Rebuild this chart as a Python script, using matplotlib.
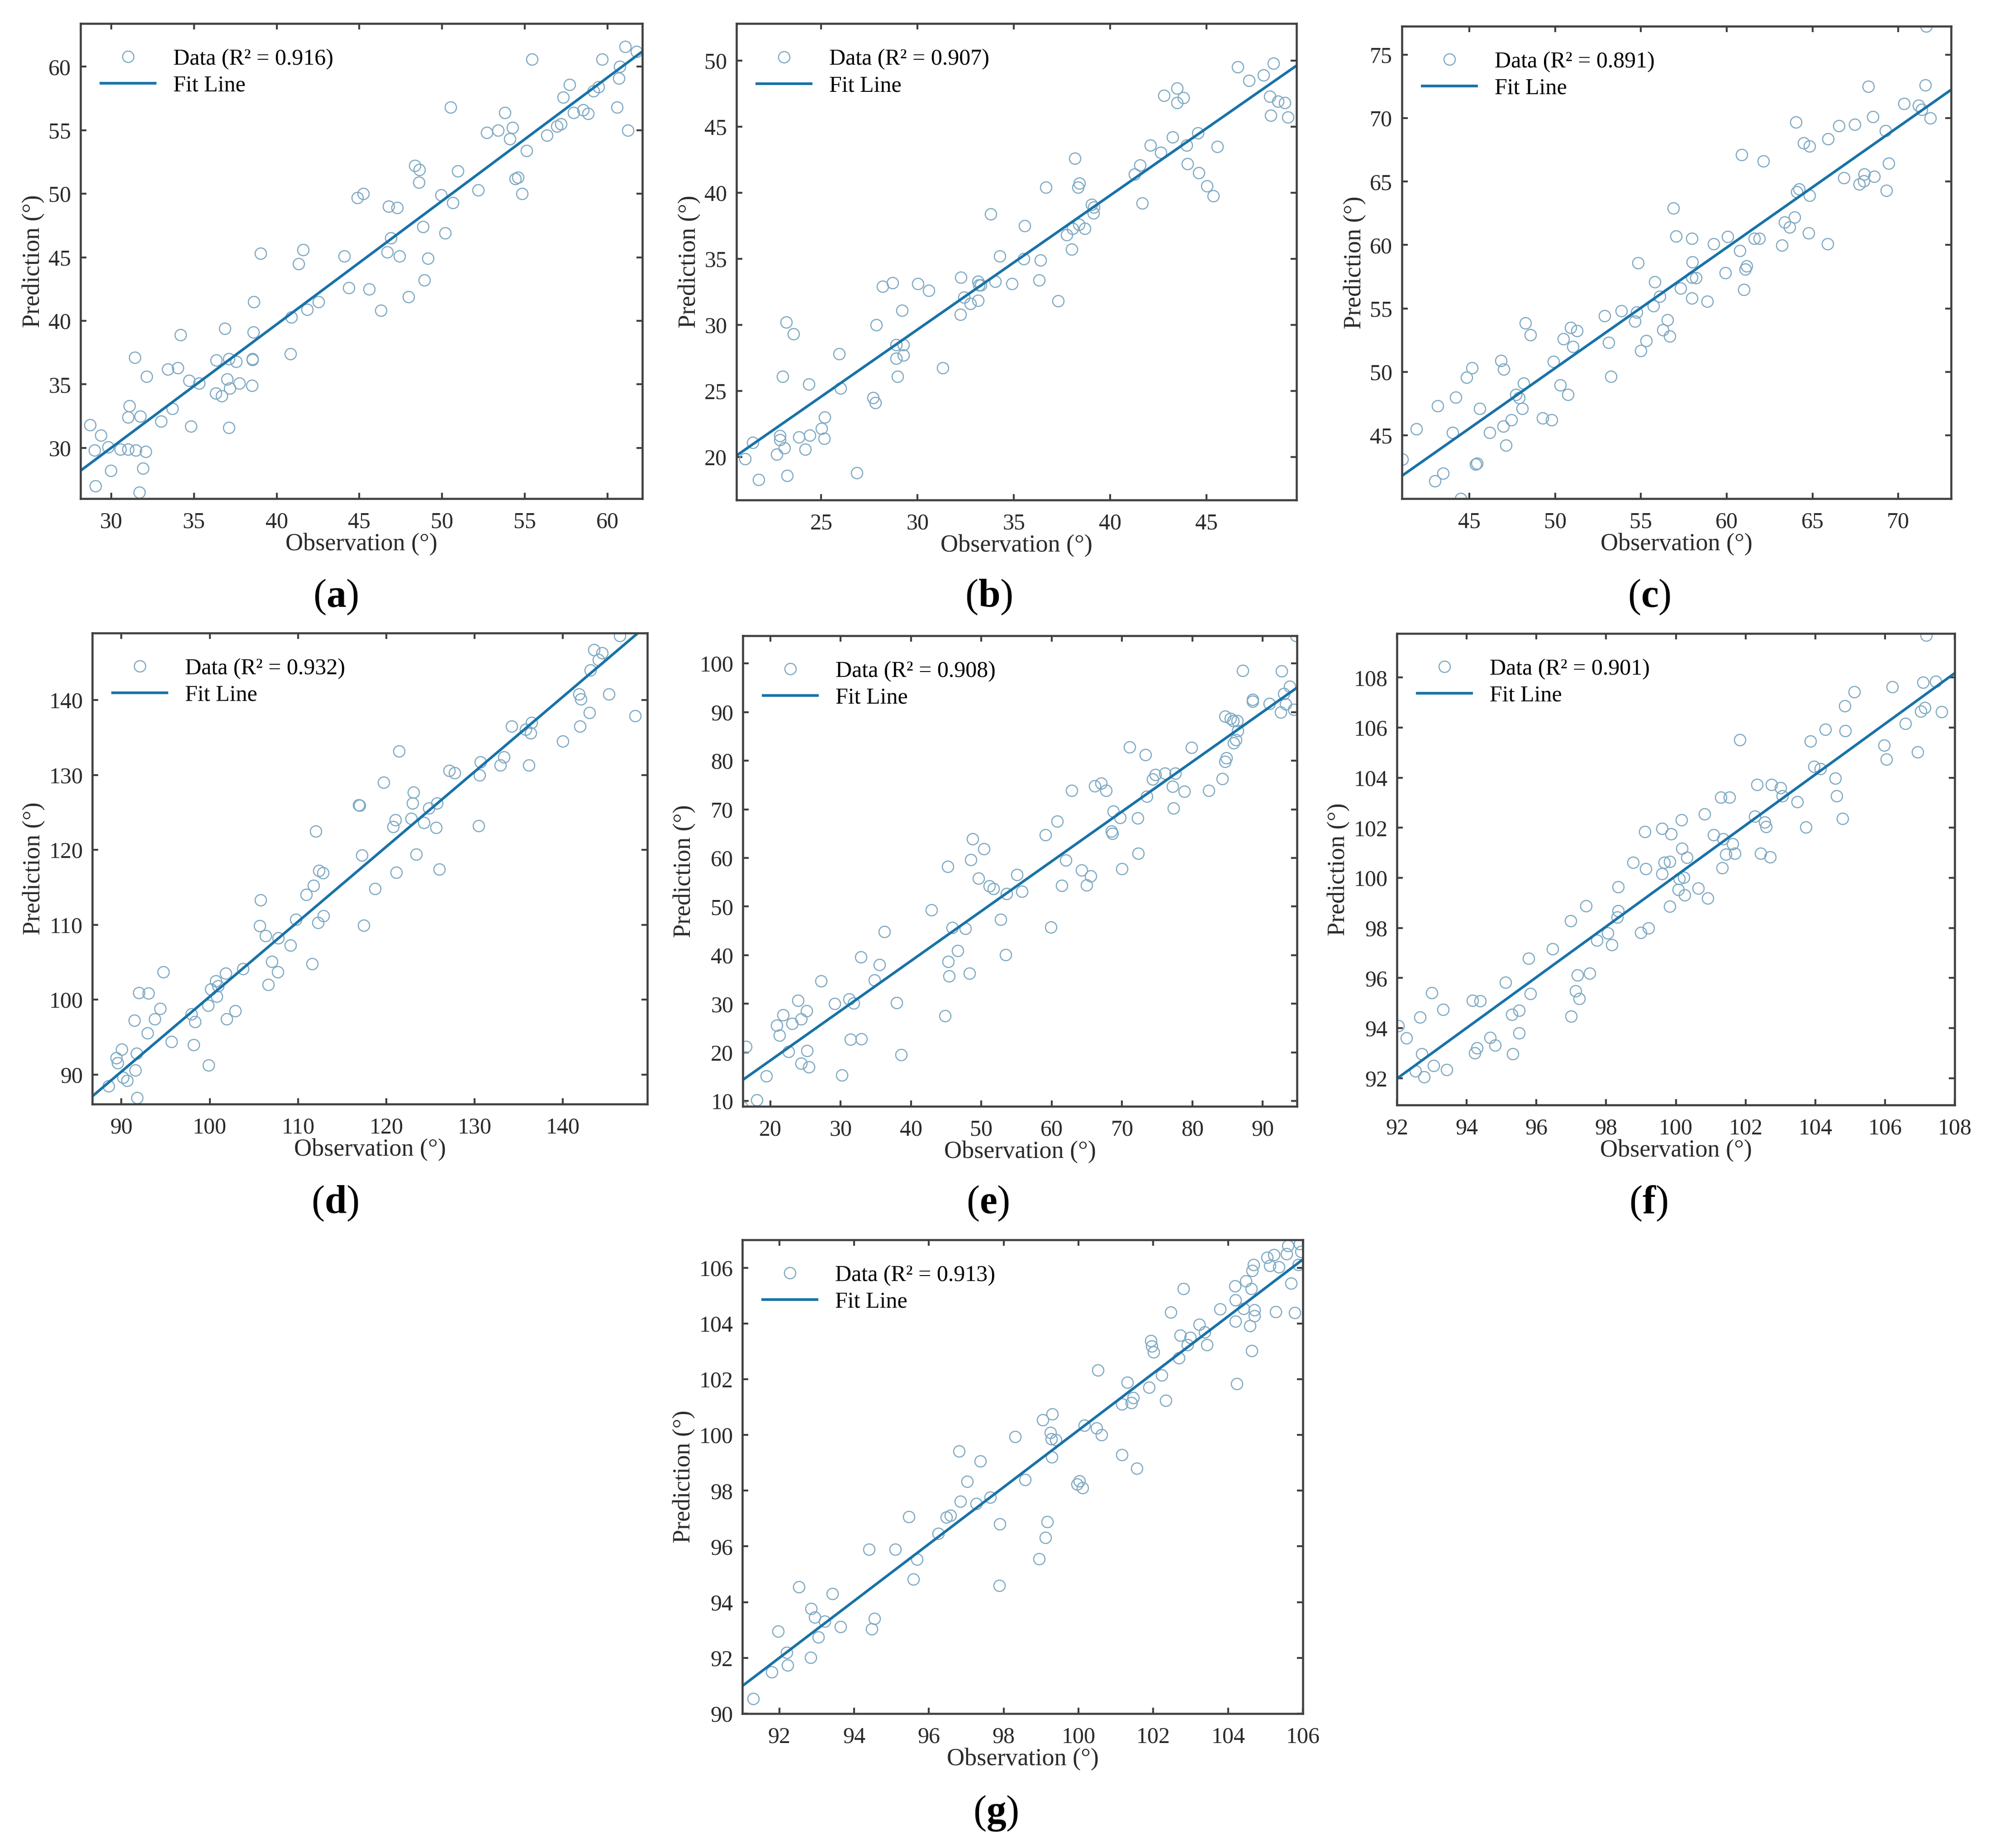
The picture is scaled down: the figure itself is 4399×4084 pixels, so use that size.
import numpy as np
import matplotlib
matplotlib.use("Agg")
import matplotlib.pyplot as plt

plt.rcParams['font.family'] = ['Liberation Serif', 'DejaVu Serif']
plt.rcParams['mathtext.fontset'] = 'custom'
plt.rcParams['mathtext.rm'] = 'Liberation Serif'
plt.rcParams['mathtext.bf'] = 'Liberation Serif:bold'

# ---- data ----
obs_a = [28.72, 29.0, 29.05, 29.39, 29.82, 29.97, 30.56, 31.02, 31.10, 31.02, 31.43, 31.49, 31.77, 31.69,
         31.92, 32.08, 32.15, 33.02, 33.43, 33.71, 34.02, 34.18, 34.71, 34.82, 35.30, 36.33, 36.35, 36.69,
         36.87, 37.02, 37.12, 37.17, 37.12, 37.56, 37.74, 38.51, 38.53, 38.55, 38.58, 38.63, 39.04, 40.84,
         40.89, 41.32, 41.61, 41.84, 42.53, 44.09, 44.37, 44.89, 45.24, 45.60, 46.30, 46.68, 46.76, 46.91,
         47.29, 47.42, 47.96, 48.35, 48.63, 48.60, 48.83, 48.93, 49.14, 49.93, 50.19, 50.50, 50.65, 50.96,
         52.19, 52.70, 53.39, 53.80, 54.08, 54.26, 54.42, 54.57, 54.83, 55.11, 55.42, 56.34, 56.93, 57.18,
         57.31, 57.70, 57.95, 58.52, 58.82, 59.16, 59.46, 59.67, 60.57, 60.67, 60.74, 61.05, 61.23, 61.74]
pred_a = [31.8, 29.8, 27.0, 31.0, 30.06, 28.2, 29.9, 29.9, 33.3, 32.4, 37.1, 29.8, 32.5, 26.5,
          28.4, 29.7, 35.6, 32.1, 36.2, 33.1, 36.3, 38.9, 35.3, 31.7, 35.1, 34.3, 36.9, 34.1,
          39.4, 35.4, 37.0, 34.7, 31.6, 36.8, 35.1, 34.9, 37.0, 36.95, 39.1, 41.5, 45.3, 37.4,
          40.3, 44.5, 45.6, 40.9, 41.5, 45.1, 42.6, 49.7, 50.0, 42.5, 40.8, 45.4, 49.0, 46.5,
          48.9, 45.1, 41.9, 52.2, 51.9, 50.9, 47.4, 43.2, 44.9, 49.9, 46.9, 56.8, 49.3, 51.8,
          50.3, 54.8, 55.0, 56.4, 54.3, 55.2, 51.2, 51.3, 50.0, 53.4, 60.6, 54.6, 55.3, 55.5,
          57.6, 58.6, 56.4, 56.6, 56.3, 58.1, 58.4, 60.6, 56.8, 59.1, 60.0, 61.6, 55.0, 61.2]

obs_b = [21.04, 21.45, 21.76, 22.69, 22.86, 22.86, 23.0, 23.08, 23.19, 23.24, 23.57, 23.83, 24.16, 24.36,
         24.41, 25.02, 25.15, 25.18, 25.93, 25.99, 26.85, 27.69, 27.82, 27.86, 28.19, 28.70, 28.88, 28.88,
         28.96, 29.19, 29.27, 29.27, 30.02, 30.59, 31.30, 32.22, 32.25, 32.42, 32.73, 33.13, 33.15, 33.19,
         33.28, 33.79, 34.03, 34.27, 34.91, 35.5, 35.55, 36.30, 36.39, 36.65, 37.29, 37.73, 37.99, 38.04,
         38.17, 38.33, 38.39, 38.37, 38.68, 39.03, 39.12, 39.16, 41.26, 41.54, 41.67, 42.09, 42.62, 42.78,
         43.24, 43.46, 43.46, 43.81, 43.96, 44.0, 44.56, 44.60, 45.02, 45.35, 45.57, 46.61, 47.20, 47.95,
         48.28, 48.33, 48.48, 48.70, 49.05, 49.23]
pred_b = [19.85, 21.1, 18.3, 20.2, 21.6, 21.3, 26.1, 20.7, 30.2, 18.6, 29.3, 21.5, 20.6, 25.5,
          21.65, 22.15, 21.4, 23.0, 27.8, 25.2, 18.8, 24.5, 24.1, 30.0, 32.9, 33.2, 28.5, 27.45,
          26.1, 31.1, 28.5, 27.7, 33.1, 32.6, 26.75, 30.8, 33.6, 32.1, 31.6, 31.85, 33.3, 33.0,
          33.0, 38.4, 33.3, 35.2, 33.1, 35.0, 37.5, 33.4, 34.9, 40.4, 31.8, 36.8, 35.7, 37.3,
          42.6, 40.4, 40.7, 37.6, 37.3, 39.1, 38.45, 38.9, 41.4, 42.1, 39.2, 43.6, 43.05, 47.35,
          44.2, 47.9, 46.8, 47.2, 43.6, 42.2, 44.5, 41.5, 40.5, 39.75, 43.5, 49.5, 48.5, 48.9,
          47.3, 45.85, 49.8, 46.9, 46.8, 45.7]

obs_c = [41.09, 41.92, 42.99, 43.16, 43.48, 44.03, 44.20, 44.50, 44.85, 45.15, 45.37, 45.45, 45.6, 46.19,
         46.84, 46.97, 47.01, 47.14, 47.44, 47.71, 47.89, 48.08, 48.16, 48.28, 48.56, 49.28, 49.80, 49.90,
         50.30, 50.47, 50.75, 50.90, 51.04, 51.27, 52.89, 53.11, 53.26, 53.86, 54.65, 54.75, 54.83, 55.0,
         55.30, 55.72, 55.80, 56.09, 56.29, 56.54, 56.69, 56.89, 57.06, 57.31, 57.96, 57.96, 58.01, 57.96,
         58.21, 58.88, 59.25, 59.93, 60.05, 60.77, 60.87, 61.0, 61.09, 61.17, 61.62, 61.89, 62.14, 63.23,
         63.38, 63.66, 63.96, 64.03, 64.10, 64.23, 64.48, 64.78, 64.83, 64.83, 65.87, 65.9, 66.54, 66.82,
         67.46, 67.74, 67.99, 68.03, 68.26, 68.51, 68.61, 69.25, 69.3, 69.43, 70.35, 71.17, 71.37, 71.57,
         71.62, 71.87]
pred_c = [43.1, 45.5, 41.4, 47.3, 42.0, 45.2, 48.0, 40.0, 49.55, 50.3, 42.7, 42.8, 47.1, 45.2,
          50.9, 45.7, 50.2, 44.2, 46.2, 48.2, 47.95, 47.1, 49.1, 53.85, 52.9, 46.35, 46.2, 50.8,
          48.97, 52.6, 48.2, 53.5, 52.0, 53.25, 54.4, 52.3, 49.65, 54.8, 54.0, 54.7, 58.6, 51.65,
          52.45, 55.2, 57.1, 55.95, 53.3, 54.1, 52.8, 62.9, 60.7, 56.6, 55.8, 60.5, 58.65, 57.45,
          57.4, 55.55, 60.1, 57.8, 60.65, 59.55, 67.1, 56.5, 58.1, 58.35, 60.5, 60.5, 66.6, 59.98,
          61.8, 61.4, 62.2, 69.7, 64.2, 64.4, 68.05, 60.95, 67.8, 63.9, 60.1, 68.35, 69.4, 65.3,
          69.5, 64.8, 65.05, 65.6, 72.5, 70.1, 65.4, 69.0, 64.3, 66.45, 71.15, 71.0, 70.7, 72.6,
          77.25, 70.0]

obs_d = [88.56, 89.42, 89.57, 90.05, 90.19, 90.67, 91.44, 91.58, 91.73, 91.78, 91.97, 92.93, 93.03, 93.75,
         94.37, 94.75, 95.67, 97.93, 98.17, 98.31, 99.80, 99.85, 100.14, 100.71, 100.81, 100.95, 101.82,
         101.91, 102.87, 103.74, 105.66, 105.75, 106.33, 106.62, 107.05, 107.72, 107.77, 109.12, 109.74,
         110.94, 111.61, 111.76, 112.0, 112.24, 112.38, 112.81, 112.86, 116.9, 117.0, 117.23, 117.42,
         118.72, 119.68, 120.79, 121.03, 121.12, 121.41, 122.80, 122.95, 123.05, 123.38, 124.25, 124.82,
         125.64, 125.73, 125.98, 127.13, 127.76, 130.44, 130.54, 130.68, 132.89, 133.32, 134.19, 135.77,
         136.16, 136.35, 136.44, 140.0, 141.82, 142.02, 141.92, 143.02, 143.12, 143.5, 144.03, 144.42,
         145.19, 146.44, 148.16]
pred_d = [88.44, 92.2, 91.56, 93.33, 89.6, 89.2, 97.2, 90.6, 92.8, 86.9, 100.9, 95.56, 100.86, 97.4,
          98.8, 103.7, 94.4, 98.06, 93.95, 97.07, 99.2, 91.25, 101.4, 102.5, 100.4, 101.8, 103.5,
          97.4, 98.5, 104.1, 109.85, 113.3, 108.5, 102.0, 105.1, 103.7, 108.25, 107.25, 110.7,
          114.0, 104.8, 115.25, 122.5, 110.3, 117.2, 116.9, 111.2, 126.0, 125.9, 119.3, 109.9,
          114.8, 129.0, 123.1, 124.0, 116.97, 133.2, 124.2, 126.2, 127.7, 119.4, 123.6, 125.55,
          122.95, 126.2, 117.4, 130.6, 130.3, 123.2, 130.0, 131.7, 131.3, 132.4, 136.5, 136.1,
          131.3, 135.6, 137.0, 134.5, 140.8, 140.1, 136.5, 138.3, 144.0, 146.7, 145.35, 146.3,
          140.8, 148.6, 137.9]

obs_e = [15.96, 16.56, 18.07, 19.4, 20.9, 21.27, 21.81, 22.59, 23.07, 23.92, 24.4, 24.4, 25.18, 25.24,
         25.49, 27.23, 29.16, 30.18, 31.21, 31.39, 31.81, 32.84, 32.96, 34.77, 35.49, 36.22, 37.97, 38.57,
         42.91, 44.83, 45.2, 45.26, 45.38, 45.86, 46.64, 47.73, 48.33, 48.51, 48.75, 49.6, 50.38, 51.16,
         51.71, 52.73, 53.57, 53.45, 55.08, 55.74, 59.12, 59.9, 60.81, 61.41, 62.02, 62.86, 64.24, 64.97,
         65.51, 66.12, 67.02, 67.74, 68.52, 68.64, 68.76, 69.73, 69.97, 71.05, 72.2, 72.32, 73.34, 73.52,
         74.37, 74.73, 76.12, 77.2, 77.32, 77.56, 78.83, 79.86, 82.33, 84.26, 84.62, 84.62, 84.86, 85.4,
         85.82, 85.88, 86.18, 86.36, 86.42, 87.15, 88.59, 88.59, 90.95, 92.57, 92.69, 92.99, 93.24, 93.84,
         94.44, 94.74]
pred_e = [8.8, 21.15, 10.2, 15.1, 25.6, 23.5, 27.7, 20.2, 25.9, 30.7, 26.9, 17.7, 28.5, 20.35,
          17.0, 34.7, 30.05, 15.3, 31.0, 22.7, 30.1, 39.6, 22.8, 34.9, 38.06, 44.8, 30.2, 19.55,
          49.3, 27.5, 58.2, 38.7, 35.7, 45.7, 40.9, 45.5, 36.3, 59.6, 63.9, 55.85, 61.86, 54.2,
          53.7, 47.3, 52.6, 40.1, 56.6, 53.1, 64.7, 45.75, 67.55, 54.3, 59.5, 73.9, 57.45, 54.4,
          56.3, 74.8, 75.4, 73.9, 65.5, 65.0, 69.55, 68.3, 57.8, 82.8, 68.2, 60.9, 81.2, 72.7,
          76.2, 77.1, 77.4, 74.7, 70.2, 77.4, 73.7, 82.7, 73.9, 76.3, 89.1, 79.8, 80.6, 88.7,
          88.2, 83.65, 84.3, 88.2, 86.2, 98.56, 92.2, 92.6, 91.75, 90.0, 98.48, 93.8, 91.6, 95.27,
          90.5, 105.7]

obs_f = [92.04, 92.27, 92.53, 92.66, 92.71, 92.78, 93.0, 93.05, 93.33, 93.43, 94.17, 94.23, 94.3, 94.39,
         94.67, 94.82, 95.11, 95.29, 95.32, 95.5, 95.51, 95.78, 95.83, 96.47, 96.98, 96.99, 97.13, 97.18,
         97.23, 97.43, 97.53, 97.73, 98.05, 98.17, 98.32, 98.34, 98.34, 98.77, 98.99, 99.11, 99.14, 99.21,
         99.6, 99.61, 99.67, 99.82, 99.83, 99.86, 100.07, 100.1, 100.16, 100.18, 100.23, 100.25, 100.32,
         100.64, 100.82, 100.91, 101.08, 101.29, 101.33, 101.36, 101.44, 101.54, 101.63, 101.69, 101.83,
         102.26, 102.33, 102.43, 102.55, 102.59, 102.71, 102.75, 103.0, 103.06, 103.48, 103.73, 103.86,
         103.97, 104.14, 104.29, 104.57, 104.61, 104.78, 104.85, 104.86, 105.12, 105.98, 106.04, 106.21,
         106.59, 106.93, 107.03, 107.09, 107.15, 107.18, 107.46, 107.62]
pred_f = [94.09, 93.6, 92.28, 94.44, 92.98, 92.05, 95.41, 92.51, 94.75, 92.34, 95.11, 93.01, 93.21, 95.08,
          93.63, 93.31, 95.83, 94.55, 92.97, 94.71, 93.8, 96.79, 95.38, 97.17, 98.29, 94.47, 95.49, 96.11,
          95.18, 98.89, 96.19, 97.51, 97.79, 97.32, 98.43, 99.64, 98.68, 100.61, 97.82, 101.85, 100.36, 97.99,
          101.98, 100.16, 100.62, 98.86, 100.66, 101.76, 99.53, 99.97, 102.32, 101.18, 100.02, 99.31, 100.82,
          99.58, 102.55, 99.19, 101.71, 103.21, 100.4, 101.56, 100.95, 103.21, 101.35, 100.98, 105.51,
          102.46, 103.72, 100.98, 102.23, 102.05, 100.84, 103.72, 103.6, 103.27, 103.03, 102.02, 105.46,
          104.44, 104.36, 105.93, 103.97, 103.27, 102.37, 106.86, 105.88, 107.42, 105.29, 104.73, 107.63,
          106.16, 105.03, 106.65, 107.81, 106.79, 109.68, 107.84, 106.63]

obs_g = [91.3, 91.8, 91.96, 92.19, 92.22, 92.52, 92.84, 92.85, 92.95, 93.04, 93.21, 93.42, 93.63, 94.4,
         94.47, 94.54, 95.1, 95.46, 95.58, 95.68, 96.25, 96.47, 96.57, 96.8, 96.84, 97.02, 97.27, 97.37,
         97.64, 97.88, 97.9, 98.31, 98.57, 98.95, 99.04, 99.11, 99.16, 99.25, 99.27, 99.28, 99.3, 99.4,
         99.96, 100.02, 100.11, 100.16, 100.48, 100.52, 100.62, 101.16, 101.16, 101.3, 101.42, 101.46,
         101.56, 101.89, 101.93, 101.96, 102.01, 102.23, 102.33, 102.47, 102.69, 102.72, 102.81, 102.91,
         102.99, 103.23, 103.37, 103.44, 103.79, 104.19, 104.2, 104.2, 104.23, 104.42, 104.48, 104.58,
         104.62, 104.63, 104.65, 104.68, 104.7, 104.7, 105.05, 105.12, 105.22, 105.28, 105.36, 105.57,
         105.6, 105.68, 105.78, 105.88, 105.91, 105.95]
pred_g = [90.53, 91.5, 92.95, 92.19, 91.73, 94.54, 92.02, 93.77, 93.46, 92.74, 93.31, 94.3, 93.11, 95.89,
          93.03, 93.41, 95.89, 97.07, 94.82, 95.53, 96.47, 97.04, 97.11, 99.41, 97.61, 98.33, 97.54, 99.06,
          97.76, 94.59, 96.81, 99.94, 98.39, 95.56, 100.54, 96.32, 96.88, 100.09, 99.86, 99.2, 100.75, 99.83,
          98.23, 98.34, 98.1, 100.35, 100.25, 102.33, 100.0, 101.11, 99.29, 101.89, 101.15, 101.34,
          98.8, 101.7, 103.38, 103.18, 102.97, 102.14, 101.24, 104.41, 102.77, 103.58, 105.24, 103.23,
          103.49, 103.96, 103.68, 103.23, 104.51, 105.35, 104.84, 104.08, 101.83, 104.54, 105.53, 103.92,
          105.24, 103.02, 105.9, 106.1, 104.49, 104.27, 106.36, 106.07, 106.46, 104.42, 106.03, 106.5,
          106.79, 105.44, 104.38, 106.1, 106.85, 106.57]

panel_ids = ['a', 'b', 'c', 'd', 'e', 'f', 'g']
r2_values = [0.916, 0.907, 0.891, 0.932, 0.908, 0.901, 0.913]
# fit line (slope, intercept)
fit_slope = [0.972, 1.015, 0.951, 1.001, 1.024, 1.012, 1.021]
fit_icpt = [0.84, -0.8, 2.74, 0.3, -2.13, -1.12, -1.93]
x_limits = [(28.15, 62.1), (20.6, 49.67), (41.07, 73.08), (86.7, 149.56),
            (16.08, 94.87), (92.0, 108.0), (91.01, 106.0)]
y_limits = [(26.0, 63.4), (16.75, 52.8), (40.0, 77.25), (86.05, 148.94),
            (8.9, 105.7), (90.93, 109.76), (90.0, 107.0)]
x_ticks = [np.arange(30, 61, 5), np.arange(25, 46, 5), np.arange(45, 71, 5), np.arange(90, 141, 10),
           np.arange(20, 91, 10), np.arange(92, 109, 2), np.arange(92, 107, 2)]
y_ticks = [np.arange(30, 61, 5), np.arange(20, 51, 5), np.arange(45, 76, 5), np.arange(90, 141, 10),
           np.arange(10, 101, 10), np.arange(92, 109, 2), np.arange(90, 107, 2)]
observations = [obs_a, obs_b, obs_c, obs_d, obs_e, obs_f, obs_g]
predictions = [pred_a, pred_b, pred_c, pred_d, pred_e, pred_f, pred_g]

# axes boxes in pixels: left, right, top, bottom ; caption centre x, y
W, H = 4399, 4084
boxes = [(178, 1420, 52, 1102), (1628, 2866, 52, 1105), (3099, 4313, 58, 1102),
         (204, 1431, 1399, 2440), (1642, 2867, 1405, 2445), (3088, 4321, 1400, 2442),
         (1641, 2880, 2740, 3787)]
captions = [(742, 1320), (2186, 1320), (3646, 1320),
            (741, 2660), (2184, 2660), (3644, 2660), (2201, 4008)]

line_col = '#1872a8'
pt_col = '#7fa9c2'
spine_col = '#404040'
text_col = '#2a2a2a'

fig = plt.figure(figsize=(W / 300, H / 300), dpi=300)

for i in range(7):
    l, r, t, b = boxes[i]
    ax = fig.add_axes([l / W, 1 - b / H, (r - l) / W, (b - t) / H])
    ax.plot(observations[i], predictions[i], 'o', mfc='none', mec=pt_col, ms=6, mew=0.6,
            label='Data (R\u00b2 = %.3f)' % r2_values[i])
    xs = np.array(x_limits[i])
    ax.plot(xs, fit_slope[i] * xs + fit_icpt[i], '-', color=line_col, lw=1.4, label='Fit Line')
    ax.set_xlim(x_limits[i])
    ax.set_ylim(y_limits[i])
    ax.set_xticks(x_ticks[i])
    ax.set_yticks(y_ticks[i])
    ax.tick_params(direction='in', top=True, right=True, length=3.2, width=1.0,
                   color=spine_col, labelsize=12, labelcolor=text_col)
    ax.tick_params(axis='x', pad=7)
    ax.tick_params(axis='y', pad=5)
    for s in ax.spines.values():
        s.set_color(spine_col)
        s.set_linewidth(1.1)
    ax.set_xlabel('Observation (\u00b0)', fontsize=13, color=text_col, labelpad=0)
    ax.set_ylabel('Prediction (\u00b0)', fontsize=13, color=text_col, labelpad=2)
    ax.legend(loc='upper left', bbox_to_anchor=(0.0, 0.99), frameon=False, fontsize=12,
              handlelength=2.4, handletextpad=0.8, borderpad=0.4, borderaxespad=0.5,
              labelspacing=0.25, numpoints=1)
    cx, cy = captions[i]
    fig.text(cx / W, 1 - cy / H, '($\\mathbf{%s}$)' % panel_ids[i], fontsize=21,
             ha='center', va='center')

fig.savefig('out.png', dpi=300)
